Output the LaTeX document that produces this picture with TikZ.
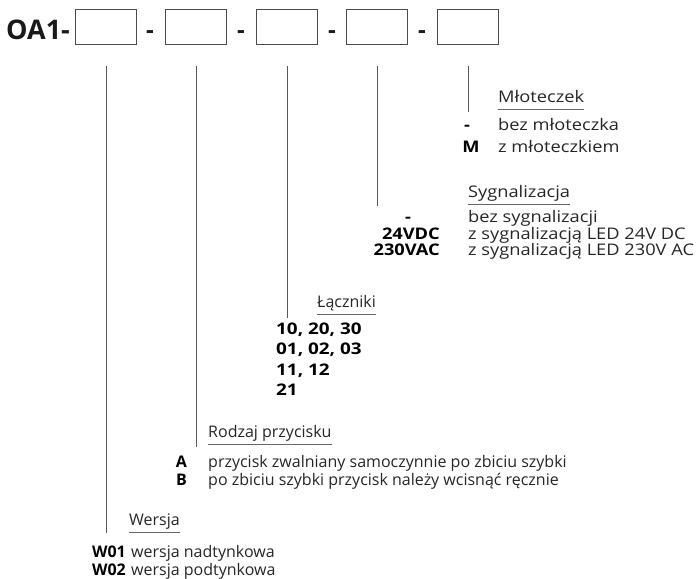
\documentclass[tikz,border=0pt]{standalone}
\usepackage{fontspec}
\setmainfont{Open Sans}
\newfontfamily\widefont[FakeStretch=1.14]{Open Sans}
\newfontfamily\digitfont[FakeStretch=1.18]{Open Sans}
\begin{document}
\begin{tikzpicture}[x=1pt,y=-1pt,
  box/.style={draw=black!70,line width=0.9pt,minimum width=61pt,minimum height=35pt,inner sep=0,anchor=north west},
  conn/.style={draw=black!65,line width=0.9pt},
  txt/.style={inner sep=0,font=\fontsize{16}{18}\selectfont,text=black!85},
  head/.style={txt,anchor=base west},
  desc/.style={txt,anchor=base west},
  whead/.style={desc,font=\widefont\fontsize{16}{18}\selectfont},
  wdesc/.style={desc,font=\widefont\fontsize{16}{18}\selectfont},
  code/.style={inner sep=0,anchor=base east,font=\fontsize{16}{18}\selectfont\bfseries,text=black},
  wcode/.style={code,font=\widefont\fontsize{16}{18}\selectfont\bfseries},
  wcodec/.style={wcode,anchor=base},
  dcode/.style={code,anchor=base west,font=\digitfont\fontsize{16}{18}\selectfont\bfseries},
  big/.style={inner sep=0,anchor=base west,font=\fontsize{27}{27}\selectfont\bfseries,text=black!90},
  bigdash/.style={inner sep=0,anchor=base,font=\fontsize{24}{24}\selectfont\bfseries,text=black!90},
  uline/.style={draw=black!60,line width=0.8pt}]
\useasboundingbox (0,0) rectangle (697,579);
% header
\node[big] (t) at (6,39) {OA1-};
\node[box] (b1) at (75,9) {};
\node[box] (b2) at (165,9) {};
\node[box] (b3) at (256,9) {};
\node[box] (b4) at (346,9) {};
\node[box] (b5) at (437,9) {};
\node[bigdash] (d1) at (150,38) {-};
\node[bigdash] (d2) at (241,38) {-};
\node[bigdash] (d3) at (332,38) {-};
\node[bigdash] (d4) at (422,38) {-};
% line ends
\coordinate (e1) at (b1.south |- 0,533);
\coordinate (e2) at (b2.south |- 0,447);
\coordinate (e3) at (b3.south |- 0,318);
\coordinate (e4) at (b4.south |- 0,206);
\coordinate (e5) at (b5.south |- 0,112);
\foreach \i in {1,...,5}{
  \draw[conn] ([yshift=-21pt]b\i.south) -- (e\i);
}
% Mloteczek
\node[whead] (h5) at (498,102) {Młoteczek};
\draw[uline] ([yshift=-7pt]h5.base west) -- ([yshift=-7pt]h5.base east);
\node[wcodec] (c51) at (467,130) {-};
\node[wdesc] (t51) at (498,130) {bez młoteczka};
\node[wcodec] (c52) at (471,152) {M};
\node[wdesc] (t52) at (498,152) {z młoteczkiem};
% Sygnalizacja
\node[whead] (h4) at (468,197) {Sygnalizacja};
\draw[uline] ([yshift=-7pt]h4.base west) -- ([yshift=-7pt]h4.base east);
\node[wcodec] (c41) at (408,222) {-};
\node[wdesc] (t41) at (468,222) {bez sygnalizacji};
\node[wcode] (c42) at (440,239) {24VDC};
\node[wdesc] (t42) at (468,239) {z sygnalizacją LED 24V DC};
\node[wcode] (c43) at (440,255) {230VAC};
\node[wdesc] (t43) at (468,255) {z sygnalizacją LED 230V AC};
% Laczniki
\node[head] (h3) at (317,307) {Łączniki};
\draw[uline] ([yshift=-7pt]h3.base west) -- ([yshift=-7pt]h3.base east);
\node[dcode] (c31) at (276,334) {10, 20, 30};
\node[dcode] (c32) at (276,354.5) {01, 02, 03};
\node[dcode] (c33) at (276,375) {11, 12};
\node[dcode] (c34) at (276,395) {21};
% Rodzaj
\node[head] (h2) at (208,437) {Rodzaj przycisku};
\draw[uline] ([yshift=-7pt]h2.base west) -- ([yshift=-7pt]h2.base east);
\node[code] (c21) at (187,467) {A};
\node[desc] (t21) at (208,467) {przycisk zwalniany samoczynnie po zbiciu szybki};
\node[code] (c22) at (187,485) {B};
\node[desc] (t22) at (208,485) {po zbiciu szybki przycisk należy wcisnąć ręcznie};
% Wersja
\node[head] (h1) at (129,525) {Wersja};
\draw[uline] ([yshift=-7pt]h1.base west) -- ([yshift=-7pt]h1.base east);
\node[code] (c11) at (126,557) {W01};
\node[desc] (t11) at (131,557) {wersja nadtynkowa};
\node[code] (c12) at (126,575) {W02};
\node[desc] (t12) at (131,575) {wersja podtynkowa};
\end{tikzpicture}
\end{document}
